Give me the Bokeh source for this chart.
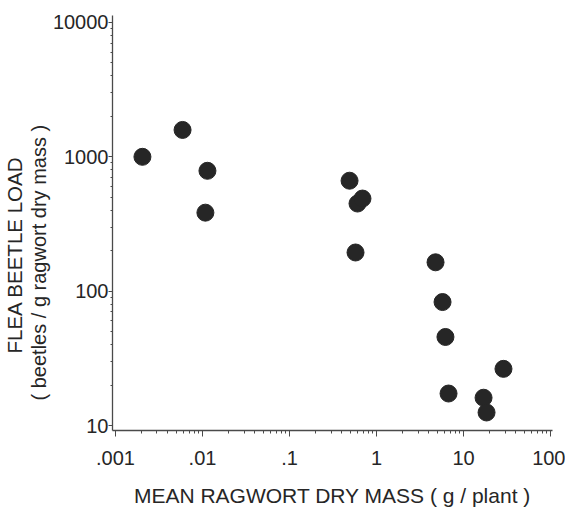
from bokeh.plotting import figure
from bokeh.models import Range1d, FixedTicker, Title
from bokeh.embed import file_html
from bokeh.resources import INLINE

# data
ragwort_mass = [0.00204, 0.0059, 0.0114, 0.0108, 0.49, 0.605, 0.69, 0.574,
                4.77, 5.74, 6.2, 6.73, 17.0, 18.4, 28.8]
beetle_load = [1000, 1585, 787, 384, 664, 449, 489, 194,
               164, 83, 45.6, 17.3, 16.1, 12.5, 26.4]

x_ticks = [0.001, 0.01, 0.1, 1, 10, 100]
x_tick_labels = [".001", ".01", ".1", "1", "10", "100"]
y_ticks = [10, 100, 1000, 10000]
y_tick_labels = ["10", "100", "1000", "10000"]

x_label = "MEAN RAGWORT DRY MASS ( g / plant )"
y_label_1 = "FLEA BEETLE LOAD"
y_label_2 = "( beetles / g ragwort dry mass )"

FONT = "Liberation Sans"
TXT = "#262626"
AX = "#4a4a4a"

p = figure(width=565, height=509, x_axis_type="log", y_axis_type="log",
           output_backend="svg", toolbar_location=None,
           x_range=Range1d(0.000924, 105.4), y_range=Range1d(9.18, 11270),
           min_border_left=112, min_border_right=13, min_border_top=15,
           min_border_bottom=77)

p.scatter(ragwort_mass, beetle_load, size=17, color="#262626", line_color="#262626")

def minors(ticks):
    out = []
    for t in ticks[:-1]:
        out += [t * k for k in range(2, 10)]
    return out

p.xaxis.ticker = FixedTicker(ticks=x_ticks, minor_ticks=minors(x_ticks))
p.yaxis.ticker = FixedTicker(ticks=y_ticks, minor_ticks=minors(y_ticks + [100000]))
p.xaxis.major_label_overrides = {t: l for t, l in zip(x_ticks, x_tick_labels)}
p.yaxis.major_label_overrides = {t: l for t, l in zip(y_ticks, y_tick_labels)}

for ax in (p.xaxis, p.yaxis):
    ax.axis_line_color = AX
    ax.axis_line_width = 1.3
    ax.major_tick_line_color = AX
    ax.minor_tick_line_color = AX
    ax.major_tick_in = 0
    ax.minor_tick_in = 0
    ax.major_label_text_font = FONT
    ax.major_label_text_font_size = "20px"
    ax.major_label_text_color = TXT

p.xaxis.major_tick_out = 6
p.xaxis.minor_tick_out = 3
p.yaxis.major_tick_out = 4
p.yaxis.minor_tick_out = 2
p.xaxis.major_label_standoff = 14
p.yaxis.major_label_standoff = 0

p.xaxis.axis_label = x_label
p.xaxis.axis_label_text_font = FONT
p.xaxis.axis_label_text_font_size = "21px"
p.xaxis.axis_label_text_font_style = "normal"
p.xaxis.axis_label_text_color = TXT
p.xaxis.axis_label_text_line_height = 0.52
p.xaxis.axis_label_standoff = 16

t2 = Title(text=y_label_2, align="left", offset=30, text_font=FONT,
           text_font_size="20px", text_font_style="normal", text_color=TXT,
           text_line_height=0.6, standoff=0)
t1 = Title(text=y_label_1, align="left", offset=77, text_font=FONT,
           text_font_size="20.5px", text_font_style="normal", text_color=TXT,
           text_line_height=0.6, standoff=0)
p.add_layout(t2, "left")
p.add_layout(t1, "left")

p.grid.visible = False
p.outline_line_color = None
p.background_fill_color = "white"
p.border_fill_color = "white"

open("out.html", "w").write(file_html(p, INLINE))
